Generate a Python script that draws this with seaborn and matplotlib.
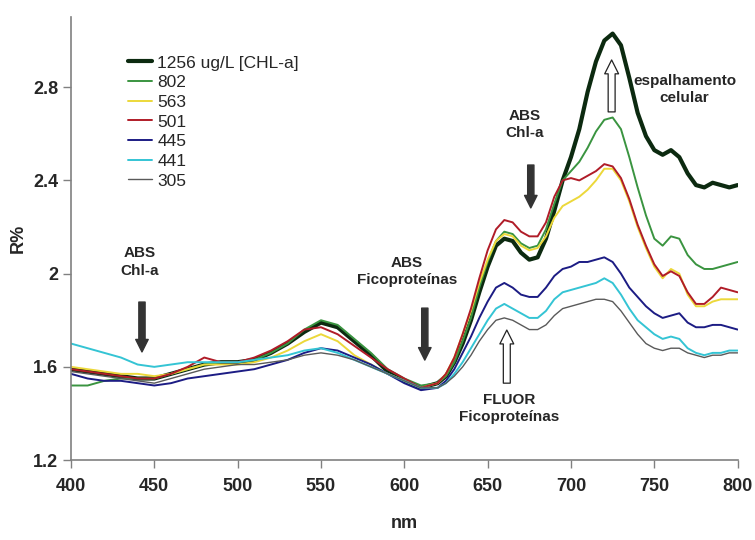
import matplotlib
matplotlib.use("Agg")
import matplotlib.pyplot as plt
import seaborn as sns
import numpy as np
import pandas as pd

# wavelength grid (nm)
wl = [400, 410, 420, 430, 440, 450, 460, 470, 480, 490, 500, 510, 520, 530, 540, 550,
      560, 570, 580, 590, 600, 610, 620, 625, 630, 635, 640, 645, 650, 655, 660, 665,
      670, 675, 680, 685, 690, 695, 700, 705, 710, 715, 720, 725, 730, 735, 740, 745,
      750, 755, 760, 765, 770, 775, 780, 785, 790, 795, 800]

# reflectance (R%) per chlorophyll concentration
r1256 = [1.59, 1.58, 1.57, 1.56, 1.55, 1.55, 1.57, 1.59, 1.61, 1.62, 1.62, 1.63, 1.66, 1.70, 1.75, 1.79,
         1.77, 1.71, 1.65, 1.58, 1.54, 1.51, 1.53, 1.56, 1.62, 1.70, 1.80, 1.92, 2.03, 2.12, 2.15, 2.14,
         2.09, 2.06, 2.07, 2.15, 2.27, 2.40, 2.50, 2.62, 2.78, 2.91, 3.00, 3.03, 2.98, 2.84, 2.69, 2.59,
         2.53, 2.51, 2.53, 2.50, 2.43, 2.38, 2.37, 2.39, 2.38, 2.37, 2.38]
r802 = [1.52, 1.52, 1.54, 1.55, 1.55, 1.55, 1.57, 1.59, 1.61, 1.62, 1.62, 1.63, 1.66, 1.70, 1.76, 1.80,
        1.78, 1.72, 1.66, 1.59, 1.55, 1.52, 1.53, 1.56, 1.62, 1.71, 1.81, 1.94, 2.05, 2.14, 2.18, 2.17,
        2.13, 2.11, 2.12, 2.19, 2.30, 2.40, 2.44, 2.48, 2.54, 2.61, 2.66, 2.67, 2.62, 2.50, 2.37, 2.25,
        2.15, 2.12, 2.16, 2.15, 2.08, 2.04, 2.02, 2.02, 2.03, 2.04, 2.05]
r563 = [1.60, 1.59, 1.58, 1.57, 1.57, 1.56, 1.57, 1.59, 1.61, 1.61, 1.61, 1.62, 1.64, 1.67, 1.71, 1.74,
        1.71, 1.65, 1.61, 1.57, 1.54, 1.51, 1.53, 1.57, 1.64, 1.74, 1.84, 1.96, 2.06, 2.14, 2.17, 2.16,
        2.12, 2.10, 2.11, 2.16, 2.24, 2.29, 2.31, 2.33, 2.36, 2.40, 2.45, 2.45, 2.40, 2.31, 2.20, 2.11,
        2.03, 1.98, 2.02, 2.00, 1.91, 1.86, 1.86, 1.88, 1.89, 1.89, 1.89]
r501 = [1.59, 1.58, 1.57, 1.56, 1.55, 1.55, 1.57, 1.60, 1.64, 1.62, 1.62, 1.64, 1.67, 1.71, 1.76, 1.77,
        1.74, 1.69, 1.64, 1.59, 1.55, 1.51, 1.53, 1.57, 1.64, 1.74, 1.85, 1.98, 2.10, 2.19, 2.23, 2.22,
        2.18, 2.16, 2.16, 2.22, 2.33, 2.40, 2.41, 2.40, 2.42, 2.44, 2.47, 2.46, 2.41, 2.32, 2.21, 2.12,
        2.04, 1.99, 2.01, 1.99, 1.92, 1.87, 1.87, 1.90, 1.94, 1.93, 1.92]
r445 = [1.57, 1.55, 1.54, 1.54, 1.53, 1.52, 1.53, 1.55, 1.56, 1.57, 1.58, 1.59, 1.61, 1.63, 1.66, 1.68,
        1.67, 1.64, 1.61, 1.57, 1.53, 1.50, 1.51, 1.54, 1.59, 1.66, 1.73, 1.81, 1.88, 1.94, 1.96, 1.94,
        1.91, 1.90, 1.90, 1.94, 1.99, 2.02, 2.03, 2.05, 2.05, 2.06, 2.07, 2.05, 2.00, 1.94, 1.90, 1.86,
        1.83, 1.81, 1.82, 1.83, 1.79, 1.77, 1.77, 1.78, 1.78, 1.77, 1.76]
r441 = [1.70, 1.68, 1.66, 1.64, 1.61, 1.60, 1.61, 1.62, 1.62, 1.62, 1.62, 1.63, 1.64, 1.65, 1.67, 1.68,
        1.66, 1.63, 1.60, 1.57, 1.54, 1.51, 1.51, 1.53, 1.57, 1.62, 1.68, 1.74, 1.80, 1.85, 1.87, 1.85,
        1.83, 1.81, 1.81, 1.84, 1.89, 1.92, 1.93, 1.94, 1.95, 1.96, 1.98, 1.96, 1.91, 1.85, 1.80, 1.77,
        1.74, 1.72, 1.73, 1.72, 1.68, 1.66, 1.65, 1.66, 1.66, 1.67, 1.67]
r305 = [1.58, 1.57, 1.56, 1.55, 1.54, 1.53, 1.55, 1.57, 1.59, 1.60, 1.61, 1.61, 1.62, 1.63, 1.65, 1.66,
        1.65, 1.63, 1.60, 1.57, 1.54, 1.51, 1.51, 1.53, 1.56, 1.60, 1.65, 1.71, 1.76, 1.80, 1.81, 1.80,
        1.78, 1.76, 1.76, 1.78, 1.82, 1.85, 1.86, 1.87, 1.88, 1.89, 1.89, 1.88, 1.84, 1.79, 1.74, 1.70,
        1.68, 1.67, 1.68, 1.68, 1.66, 1.65, 1.64, 1.65, 1.65, 1.66, 1.66]

labels = ["1256 ug/L [CHL-a]", "802", "563", "501", "445", "441", "305"]
series = [r1256, r802, r563, r501, r445, r441, r305]
colors = ["#0c2a10", "#3a9440", "#ecd83a", "#b01c28", "#1c1c84", "#34c4d4", "#5a5a5a"]
widths = [3.0, 1.4, 1.4, 1.4, 1.4, 1.4, 1.0]

sns.set_theme(style="ticks")
plt.rcParams["font.family"] = ["Liberation Sans", "DejaVu Sans"]

fig = plt.figure(figsize=(7.55, 5.4), dpi=100)
ax = fig.add_axes([0.094, 0.148, 0.883, 0.820])

for lab, vals, col, lw in zip(labels, series, colors, widths):
    df = pd.DataFrame({"nm": wl, "R": vals})
    sns.lineplot(data=df, x="nm", y="R", color=col, lw=lw, label=lab, ax=ax)

ax.set_xlim(400, 800)
ax.set_ylim(1.2, 3.1)
ax.set_xticks([400, 450, 500, 550, 600, 650, 700, 750, 800])
ax.set_yticks([1.2, 1.6, 2.0, 2.4, 2.8])
ax.set_yticklabels(["1.2", "1.6", "2", "2.4", "2.8"])
for s in ["top", "right"]:
    ax.spines[s].set_visible(False)
for s in ["left", "bottom"]:
    ax.spines[s].set_color("#808080")
    ax.spines[s].set_linewidth(1.2)
ax.tick_params(axis="both", direction="out", length=6, width=1.0, color="#808080",
               labelsize=13)
ax.tick_params(axis="x", pad=7)
ax.tick_params(axis="y", pad=3)
for t in ax.get_xticklabels() + ax.get_yticklabels():
    t.set_fontweight("bold")
ax.set_xlabel("nm", fontsize=13, fontweight="bold", labelpad=14)
ax.set_ylabel("R%", fontsize=13, fontweight="bold", labelpad=5)

leg = ax.legend(loc="upper left", bbox_to_anchor=(0.085, 0.914), frameon=False,
                fontsize=12.5, labelspacing=0.26, handlelength=1.4, handletextpad=0.3,
                borderaxespad=0, borderpad=0)

# annotations
txt = dict(fontsize=11, fontweight="bold", ha="center", va="center", linespacing=1.3)
ax.text(441.4, 2.05, "ABS\nChl-a", **txt)
ax.text(601.5, 2.01, "ABS\nFicoproteínas", **txt)
ax.text(672.3, 2.64, "ABS\nChl-a", **txt)
ax.text(662.7, 1.42, "FLUOR\nFicoproteínas", **txt)
ax.text(768.2, 2.79, "espalhamento\ncelular", **txt)

solid = dict(arrowstyle="simple,head_length=0.9,head_width=0.9,tail_width=0.45",
             fc="#333333", ec="#333333", mutation_scale=10, shrinkA=0, shrinkB=0)
hollow = dict(arrowstyle="simple,head_length=1.0,head_width=1.0,tail_width=0.5",
              fc="white", ec="#222222", lw=0.9, mutation_scale=10, shrinkA=0, shrinkB=0)
ax.annotate("", xy=(442.6, 1.664), xytext=(442.6, 1.878), arrowprops=solid)
ax.annotate("", xy=(612.3, 1.629), xytext=(612.3, 1.852), arrowprops=solid)
ax.annotate("", xy=(675.9, 2.282), xytext=(675.9, 2.466), arrowprops=solid)
ax.annotate("", xy=(661.5, 1.758), xytext=(661.5, 1.530), arrowprops=hollow)
ax.annotate("", xy=(724.4, 2.917), xytext=(724.4, 2.694), arrowprops=hollow)

fig.savefig("out.png", dpi=100)
